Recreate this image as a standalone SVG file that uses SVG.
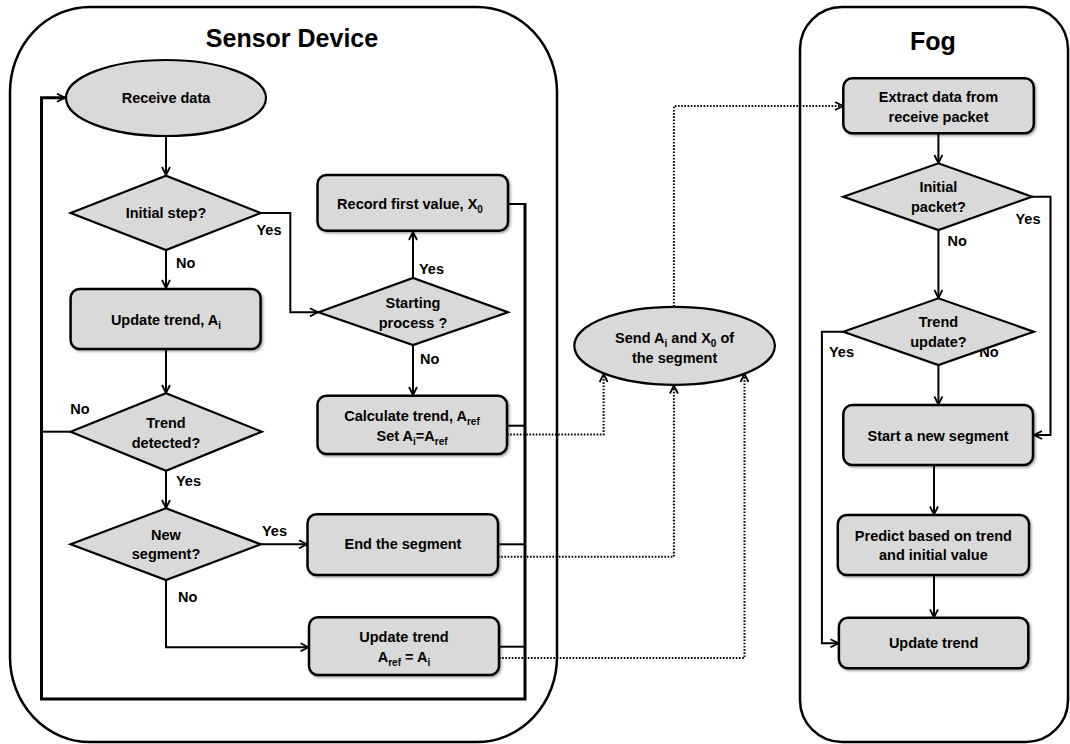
<svg xmlns="http://www.w3.org/2000/svg" width="1070" height="744" viewBox="0 0 1070 744">
<style>
text{font-family:"Liberation Sans",Arial,sans-serif;font-weight:bold;font-size:14.5px;fill:#000}
.t{text-anchor:middle}
.title{font-size:25px;text-anchor:middle}
.s{font-size:10px}
.box{fill:#d9d9d9;stroke:#000;stroke-width:2.5;filter:url(#sh)}
.dia{fill:#d9d9d9;stroke:#000;stroke-width:2.2}
.cont{fill:none;stroke:#000;stroke-width:2.5}
.ln{fill:none;stroke:#000;stroke-width:2}
.loop{fill:none;stroke:#000;stroke-width:3}
.dot{fill:none;stroke:#000;stroke-width:2;stroke-dasharray:1.6 1.6}
</style>
<defs>
<marker id="a" viewBox="0 0 10 10" refX="9" refY="5" markerWidth="10" markerHeight="10" markerUnits="userSpaceOnUse" orient="auto">
<path d="M1,1 L9,5 L1,9" fill="none" stroke="#000" stroke-width="1.8"/>
</marker>
<filter id="sh" x="-10%" y="-10%" width="120%" height="130%">
<feDropShadow dx="1.5" dy="1.5" stdDeviation="1" flood-color="#000" flood-opacity="0.35"/>
</filter>
</defs>

<g id="sensor-container">
<rect class="cont" x="10" y="7" width="547" height="735" rx="80" ry="85"/>
<text class="title" x="292" y="47">Sensor Device</text>
</g>
<g id="fog-container">
<rect class="cont" x="800" y="7" width="268" height="735" rx="42" ry="42"/>
<text class="title" x="933" y="50">Fog</text>
</g>

<g id="connectors">
<line class="ln" x1="166" y1="136" x2="166" y2="175" marker-end="url(#a)"/>
<line class="ln" x1="166" y1="250" x2="166" y2="288" marker-end="url(#a)"/>
<polyline class="ln" points="260.7,213 290.3,213 290.3,312.3 318,312.3" marker-end="url(#a)"/>
<line class="ln" x1="413" y1="278" x2="413" y2="232" marker-end="url(#a)"/>
<line class="ln" x1="413" y1="345" x2="413" y2="395" marker-end="url(#a)"/>
<line class="ln" x1="166" y1="349" x2="166" y2="393" marker-end="url(#a)"/>
<line class="ln" x1="70.6" y1="431.7" x2="41" y2="431.7"/>
<line class="ln" x1="166" y1="470.7" x2="166" y2="508" marker-end="url(#a)"/>
<line class="ln" x1="260.7" y1="544.3" x2="307" y2="544.3" marker-end="url(#a)"/>
<polyline class="ln" points="166,580 166,647.3 308.5,647.3" marker-end="url(#a)"/>
<line class="ln" x1="508" y1="204" x2="525" y2="204"/>
<line class="ln" x1="507" y1="425.7" x2="525" y2="425.7"/>
<line class="ln" x1="498" y1="544.3" x2="525" y2="544.3"/>
<line class="ln" x1="499" y1="646.7" x2="525" y2="646.7"/>
<polyline class="loop" points="525,203 525,699 41.5,699 41.5,97.7 65,97.7" marker-end="url(#a)"/>
<polyline class="dot" points="507,434.5 603.6,434.5 603.6,374" marker-end="url(#a)"/>
<polyline class="dot" points="498,556.7 673.9,556.7 673.9,385.5" marker-end="url(#a)"/>
<polyline class="dot" points="499,658 744.5,658 744.5,374" marker-end="url(#a)"/>
<polyline class="dot" points="673.9,306.7 673.9,106 843,106" marker-end="url(#a)"/>
<line class="ln" x1="938.4" y1="133.3" x2="938.4" y2="163" marker-end="url(#a)"/>
<polyline class="ln" points="1032,196.7 1050.5,196.7 1050.5,435 1034,435" marker-end="url(#a)"/>
<line class="ln" x1="938.4" y1="230" x2="938.4" y2="298" marker-end="url(#a)"/>
<polyline class="ln" points="843.3,331.7 821.9,331.7 821.9,643.3 838.5,643.3" marker-end="url(#a)"/>
<line class="ln" x1="938.4" y1="365" x2="938.4" y2="404.5" marker-end="url(#a)"/>
<line class="ln" x1="934" y1="465" x2="934" y2="514.5" marker-end="url(#a)"/>
<line class="ln" x1="934" y1="575" x2="934" y2="617.3" marker-end="url(#a)"/>
</g>

<g id="labels">
<text class="t" x="269" y="235">Yes</text>
<text x="176" y="268">No</text>
<text x="419" y="274">Yes</text>
<text x="420" y="364">No</text>
<text class="t" x="80" y="414">No</text>
<text x="176" y="486">Yes</text>
<text class="t" x="274.5" y="536">Yes</text>
<text x="178" y="602">No</text>
<text class="t" x="1028" y="224">Yes</text>
<text x="947.6" y="246">No</text>
<text class="t" x="841.5" y="357">Yes</text>
<text class="t" x="989" y="357">No</text>
</g>

<g id="receive-data">
<ellipse class="dia" cx="166" cy="98" rx="100" ry="38"/>
<text class="t" x="166" y="103">Receive data</text>
</g>
<g id="initial-step">
<polygon class="dia" points="70.6,213 166,175.7 260.7,213 166,250"/>
<text class="t" x="166" y="218">Initial step?</text>
</g>
<g id="update-trend-ai">
<rect class="box" x="70.6" y="289" width="190" height="60" rx="9"/>
<text class="t" x="166" y="325">Update trend, A<tspan class="s" dy="4">i</tspan></text>
</g>
<g id="trend-detected">
<polygon class="dia" points="70.6,431.7 166,393.3 261.7,431.7 166,470.7"/>
<text class="t" x="166" y="427.7">Trend</text>
<text class="t" x="166" y="447.7">detected?</text>
</g>
<g id="new-segment">
<polygon class="dia" points="70.6,544.3 166,508.3 260.7,544.3 166,580"/>
<text class="t" x="166" y="540">New</text>
<text class="t" x="166" y="559.3">segment?</text>
</g>
<g id="record-first-value">
<rect class="box" x="317.5" y="175" width="190.5" height="55.7" rx="9"/>
<text class="t" x="410" y="209">Record first value, X<tspan class="s" dy="4">0</tspan></text>
</g>
<g id="starting-process">
<polygon class="dia" points="318.5,312.3 413,278 508,312.3 413,345"/>
<text class="t" x="413" y="307.7">Starting</text>
<text class="t" x="413" y="327.7">process ?</text>
</g>
<g id="calculate-trend">
<rect class="box" x="317.5" y="395.7" width="189.5" height="58.3" rx="9"/>
<text class="t" x="412" y="421">Calculate trend, A<tspan class="s" dy="4">ref</tspan></text>
<text class="t" x="412" y="440.7">Set A<tspan class="s" dy="4">i</tspan><tspan dy="-4">=A</tspan><tspan class="s" dy="4">ref</tspan></text>
</g>
<g id="end-segment">
<rect class="box" x="307.5" y="514.3" width="190.5" height="60.7" rx="9"/>
<text class="t" x="403" y="549.3">End the segment</text>
</g>
<g id="update-trend-aref">
<rect class="box" x="309" y="617.3" width="190" height="57.7" rx="9"/>
<text class="t" x="404" y="642.3">Update trend</text>
<text class="t" x="404" y="661.7">A<tspan class="s" dy="4">ref</tspan><tspan dy="-4"> = A</tspan><tspan class="s" dy="4">i</tspan></text>
</g>
<g id="send-segment">
<ellipse class="dia" cx="674.6" cy="345.8" rx="100.3" ry="39"/>
<text class="t" x="674.6" y="343.3">Send A<tspan class="s" dy="4">i</tspan><tspan dy="-4"> and X</tspan><tspan class="s" dy="4">0</tspan><tspan dy="-4"> of</tspan></text>
<text class="t" x="674.6" y="363.3">the segment</text>
</g>
<g id="extract-data">
<rect class="box" x="843.3" y="78.3" width="190.5" height="55" rx="9"/>
<text class="t" x="938.5" y="101.7">Extract data from</text>
<text class="t" x="938.5" y="121.7">receive packet</text>
</g>
<g id="initial-packet">
<polygon class="dia" points="843.3,196.7 938.4,163.3 1032,196.7 938.4,230"/>
<text class="t" x="938.4" y="191.7">Initial</text>
<text class="t" x="938.4" y="211.7">packet?</text>
</g>
<g id="trend-update">
<polygon class="dia" points="843.3,331.7 938.4,298.3 1033.8,331.7 938.4,365"/>
<text class="t" x="938.4" y="326.7">Trend</text>
<text class="t" x="938.4" y="346.7">update?</text>
</g>
<g id="start-new-segment">
<rect class="box" x="843.3" y="405" width="189.7" height="60" rx="9"/>
<text class="t" x="938" y="441">Start a new segment</text>
</g>
<g id="predict">
<rect class="box" x="837.8" y="515" width="191.2" height="60" rx="9"/>
<text class="t" x="933.4" y="540.7">Predict based on trend</text>
<text class="t" x="933.4" y="560">and initial value</text>
</g>
<g id="update-trend-fog">
<rect class="box" x="838.9" y="617.7" width="189.4" height="50.6" rx="9"/>
<text class="t" x="933.6" y="648.3">Update trend</text>
</g>
</svg>
